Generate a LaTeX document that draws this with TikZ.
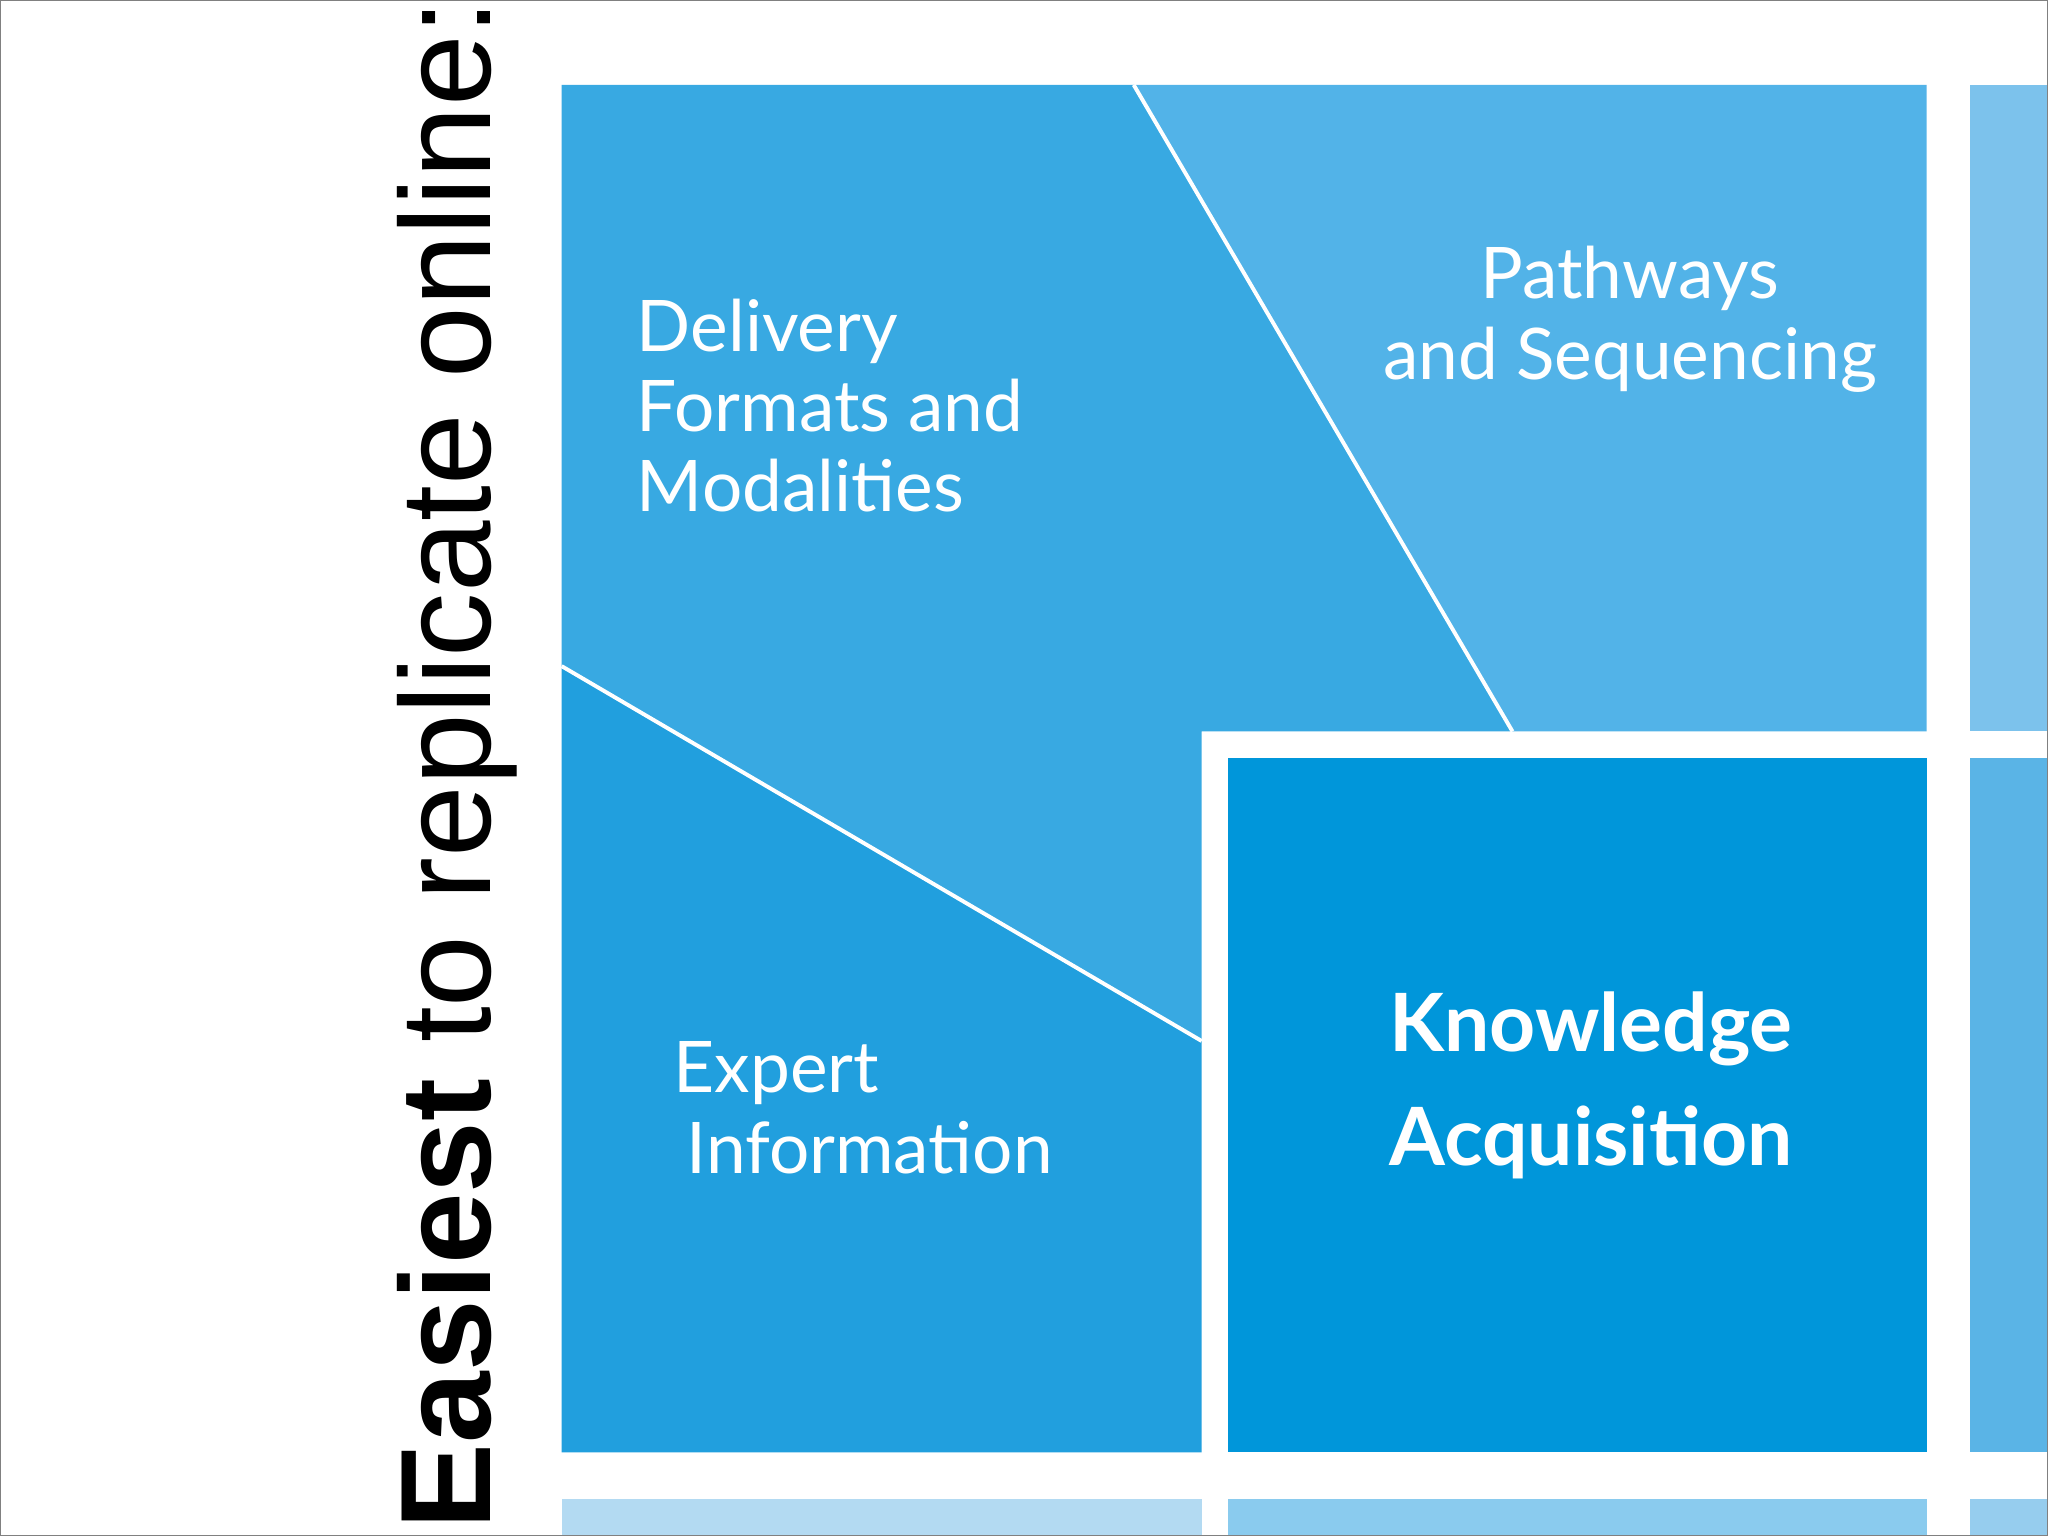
\documentclass[tikz,border=0pt]{standalone}
\usepackage{fontspec}
\setmainfont{Liberation Sans}
\newfontfamily\geo{Lato}
\begin{document}
\begin{tikzpicture}[x=0.01cm,y=-0.01cm,
  lbl/.style={text=white,font=\geo\fontsize{15.5}{17.5}\selectfont,inner sep=0pt},
  big/.style={text=white,font=\geo\bfseries\fontsize{17.5}{25}\selectfont,inner sep=0pt,align=center}]
\definecolor{ctl}{HTML}{38A9E2}
\definecolor{ctr}{HTML}{52B3E8}
\definecolor{cll}{HTML}{219FDE}
\definecolor{ckn}{HTML}{0096DA}
\definecolor{cra}{HTML}{7CC2EC}
\definecolor{crb}{HTML}{5AB4E6}
\definecolor{cba}{HTML}{B3DAF2}
\definecolor{cbb}{HTML}{8ACBEE}
\definecolor{cbc}{HTML}{96CDEE}
\useasboundingbox (0,0) rectangle (1568,1176);
\fill[white] (0,0) rectangle (1568,1176);
% regions
\fill[ctl] (430,65) -- (868,65) -- (1158,560) -- (920,560) -- (920,797) -- (430,510) -- cycle;
\fill[ctr] (868,65) -- (1475,65) -- (1475,560) -- (1158,560) -- cycle;
\fill[cll] (430,510) -- (920,797) -- (920,1112) -- (430,1112) -- cycle;
\fill[ckn] (940,580) rectangle (1475,1112);
\fill[cra] (1508,65) rectangle (1568,560);
\fill[crb] (1508,580) rectangle (1568,1112);
\fill[cba] (430,1148) rectangle (920,1176);
\fill[cbb] (940,1148) rectangle (1475,1176);
\fill[cbc] (1508,1148) rectangle (1568,1176);
\draw[white,line width=0.03cm] (868,65) -- (1158,560);
\draw[white,line width=0.03cm] (430,510) -- (920,797);
% texts
\node[lbl,anchor=north west,align=left] (dfm) at (487,228) {Delivery\\Formats and\\Modalities};
\node[lbl,anchor=north,align=center] (pas) at (1248,188) {Pathways\\and Sequencing};
\node[lbl,anchor=north west,align=left] (exi) at (515,797) {Expert\\\hspace{0.1cm}Information};
\node[big] (ka) at (1218,831) {Knowledge\\Acquisition};
\node[rotate=90,anchor=center,inner sep=0pt,font=\fontsize{28}{30}\selectfont] (title) at (350,585) {\textbf{Easiest} to replicate online:};
\draw[gray,line width=0.02cm] (0,0) rectangle (1568,1176);
\end{tikzpicture}
\end{document}
